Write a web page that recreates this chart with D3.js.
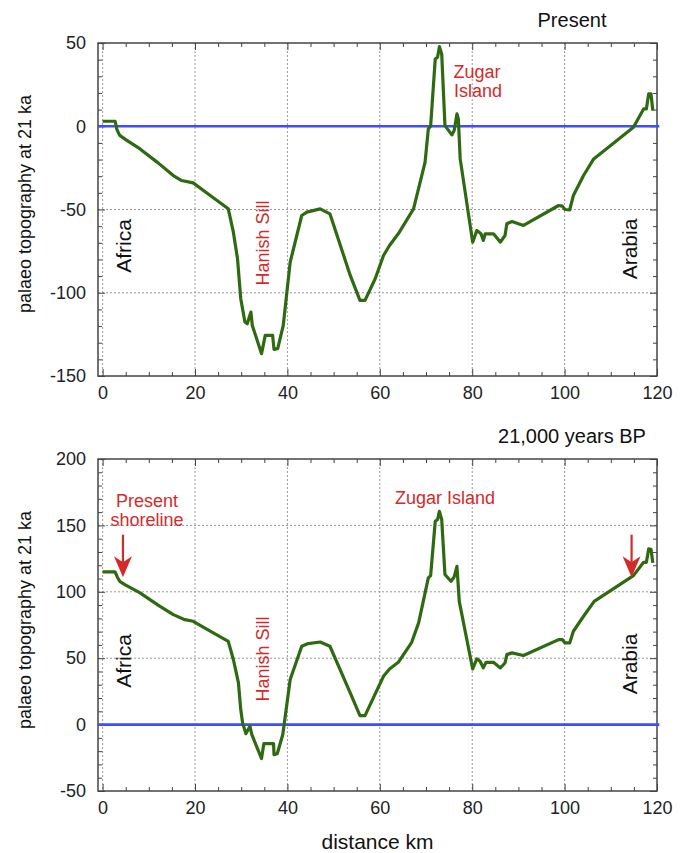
<!DOCTYPE html>
<html>

<head>
    <meta charset="utf-8">
    <script src="https://d3js.org/d3.v7.min.js"></script>
    <style>
        body { margin: 0; background: #fff; }
        svg { font-family: "Liberation Sans", Arial, Helvetica, sans-serif; }
        .tick text { font-size: 18px; fill: #222; }
        .tick line { stroke: #444; stroke-width: 1; }
        .grid line { stroke: #999; stroke-width: 1; stroke-dasharray: 2, 2; }
    </style>
</head>

<body>
    <script>
        // profile along the section, present-day bathymetry
        var presentDist = [0, 2.7, 3.1, 3.7, 5, 8.1, 12, 15.3, 17.1, 19.6, 23, 27.2, 28.3, 29.2, 29.9, 30.8, 31.3, 32.1, 32.4, 34.4, 35.2, 36.8, 37.1, 37.9, 39.1, 40.6, 43.1, 44.2, 47.1, 49.2, 53.6, 55.7, 56.8, 59.0, 60.8, 62.1, 64.0, 67.3, 69.8, 70.5, 71.0, 72.0, 72.5, 72.9, 73.4, 74.1, 75.6, 76.1, 76.7, 77.0, 77.4, 80.1, 81.0, 81.9, 82.4, 82.8, 84.6, 86.1, 87.1, 87.5, 88.6, 91.1, 98.7, 99.5, 100.1, 101.1, 101.9, 104.1, 106.3, 114.9, 117.1, 117.7, 118.2, 118.7, 119.1];
        var presentElev = [3, 3, -2, -5.5, -8, -13.6, -22, -29.6, -32.6, -34, -41, -49.6, -63.6, -79.6, -103.6, -117.6, -118.6, -111.6, -119.6, -136.6, -125.6, -125.6, -134, -133.6, -119.6, -81.6, -53.6, -51.6, -49.6, -52.6, -89.6, -104.6, -104.6, -91.6, -77.6, -71.6, -64.6, -49.6, -21.6, -1.6, 0, 40.4, 41.4, 47.8, 43.4, 0.4, -5.2, -2.6, 7.4, 4.4, -19.6, -69.6, -62.6, -64.6, -68.6, -64.6, -64.6, -69.6, -65.6, -58.6, -57.2, -59.6, -47.6, -48, -50, -50.2, -41.6, -29.6, -19.6, -0.6, 10.4, 10.4, 19.4, 19.4, 9.4];

        // same section at 21 ka
        var lgmDist = [0, 2.7, 3.2, 3.7, 5, 8.1, 12, 15.3, 17.8, 19.6, 23, 27.2, 28.3, 29.4, 29.9, 30.3, 31.0, 31.9, 32.3, 34.4, 34.9, 37.0, 37.1, 37.8, 39.0, 40.6, 43.1, 44.5, 47.1, 49.2, 53.6, 55.7, 56.8, 58.6, 60.8, 62.1, 64.0, 66.9, 68.4, 69.8, 70.5, 71.0, 72.0, 72.5, 72.9, 73.4, 74.1, 75.4, 76.1, 76.7, 77.2, 80.1, 81.0, 81.7, 82.4, 83.0, 84.6, 86.1, 87.1, 87.5, 88.6, 91.1, 98.7, 99.5, 100.1, 101.1, 101.9, 104.1, 106.4, 114.9, 117.1, 117.7, 118.2, 118.7, 119.1];
        var lgmElev = [115, 115, 111, 107.9, 105, 99.2, 90, 82.8, 79, 77.8, 71, 62.7, 49, 31.4, 11.3, 1.3, -6.8, -1.3, -7.5, -25.6, -14.3, -14.3, -22.6, -22, -7.5, 33.9, 59, 61, 62.2, 59, 23.9, 6.8, 6.8, 20.1, 36.4, 41.9, 46.9, 62, 76.6, 99.2, 110.5, 112.2, 153.1, 154.4, 160.6, 154.4, 113, 107.9, 111.2, 119.2, 92.8, 41.9, 49.5, 47.7, 42.7, 46.9, 46.9, 42.7, 46.4, 52.7, 54, 52, 64, 64, 61.5, 61.5, 70.3, 81.6, 92.8, 112.2, 122.2, 122.2, 132.3, 132, 121.8];

        var xTicks = [0, 20, 40, 60, 80, 100, 120];
        var presentYTicks = [-150, -100, -50, 0, 50];
        var lgmYTicks = [-50, 0, 50, 100, 150, 200];

        // shoreline arrows on the 21 ka panel: [distance, from, to]
        var shoreArrows = [[4.4, 143, 111], [114.5, 143, 111]];

        var W = 685, H = 853;
        var left = 98, right = 657;
        var green = "#2f6a12", blue = "#3d4dff", red = "#d42a2a";

        var svg = d3.select("body").append("svg")
            .attr("width", W)
            .attr("height", H);

        var x = d3.scaleLinear().domain([-1, 120]).range([left, right]);

        var drawPanel = function (opt) {
            var y = d3.scaleLinear().domain(opt.yDomain).range([opt.bottom, opt.top]);
            var g = svg.append("g");

            // dotted grid
            var grid = g.append("g").attr("class", "grid");
            grid.selectAll(".gx").data(xTicks.filter(function (d) { return d < 120; }))
                .enter().append("line")
                .attr("x1", function (d) { return x(d); }).attr("x2", function (d) { return x(d); })
                .attr("y1", opt.top).attr("y2", opt.bottom);
            grid.selectAll(".gy").data(opt.yTicks.slice(1, -1))
                .enter().append("line")
                .attr("x1", left).attr("x2", right)
                .attr("y1", function (d) { return y(d); }).attr("y2", function (d) { return y(d); });

            var minorX = d3.range(0, 121, 5).filter(function (d) { return d % 20 != 0; });
            var minorY = d3.range(opt.yDomain[0], opt.yDomain[1] + 1, 10).filter(function (d) { return d % 50 != 0; });

            // axes, ticks pointing inward on all four sides
            g.append("g").attr("transform", "translate(0," + opt.bottom + ")")
                .call(d3.axisBottom(x).tickValues(xTicks).tickSize(-7).tickPadding(10)
                    .tickFormat(function (d) { return String(d); }));
            g.append("g").attr("transform", "translate(0," + opt.bottom + ")")
                .call(d3.axisBottom(x).tickValues(minorX).tickSize(-4).tickFormat(""));
            g.append("g").attr("transform", "translate(0," + opt.top + ")")
                .call(d3.axisTop(x).tickValues(xTicks).tickSize(-7).tickFormat(""));
            g.append("g").attr("transform", "translate(0," + opt.top + ")")
                .call(d3.axisTop(x).tickValues(minorX).tickSize(-4).tickFormat(""));
            g.append("g").attr("transform", "translate(" + left + ",0)")
                .call(d3.axisLeft(y).tickValues(opt.yTicks).tickSize(-7).tickPadding(12)
                    .tickFormat(function (d) { return String(d); }));
            g.append("g").attr("transform", "translate(" + left + ",0)")
                .call(d3.axisLeft(y).tickValues(minorY).tickSize(-4).tickFormat(""));
            g.append("g").attr("transform", "translate(" + right + ",0)")
                .call(d3.axisRight(y).tickValues(opt.yTicks).tickSize(-7).tickFormat(""));
            g.append("g").attr("transform", "translate(" + right + ",0)")
                .call(d3.axisRight(y).tickValues(minorY).tickSize(-4).tickFormat(""));
            g.selectAll(".domain").remove();

            g.append("rect")
                .attr("x", left).attr("y", opt.top)
                .attr("width", right - left).attr("height", opt.bottom - opt.top)
                .attr("fill", "none").attr("stroke", "#444").attr("stroke-width", 1.5);

            // sea level
            g.append("line")
                .attr("x1", x(-1)).attr("x2", x(120.5))
                .attr("y1", y(0)).attr("y2", y(0))
                .attr("stroke", blue).attr("stroke-width", 2.6);

            var pts = opt.dist.map(function (d, i) { return [d, opt.elev[i]]; });
            g.append("path")
                .datum(pts)
                .attr("fill", "none")
                .attr("stroke", green)
                .attr("stroke-width", 3.2)
                .attr("stroke-linejoin", "round")
                .attr("d", d3.line().x(function (d) { return x(d[0]); }).y(function (d) { return y(d[1]); }));

            // titles and labels
            g.append("text").text(opt.title)
                .attr("x", 572).attr("y", opt.top - 16)
                .attr("text-anchor", "middle").attr("font-size", 20).attr("fill", "#111");

            g.append("text").text("palaeo topography at 21 ka")
                .attr("transform", "translate(31," + opt.labelY + ") rotate(-90)")
                .attr("text-anchor", "middle").attr("font-size", 18).attr("fill", "#111");

            var vlabel = function (txt, px, py, size, col) {
                g.append("text").text(txt)
                    .attr("transform", "translate(" + px + "," + py + ") rotate(-90)")
                    .attr("text-anchor", "middle").attr("dy", "0.36em")
                    .attr("font-size", size).attr("fill", col);
            };
            vlabel("Africa", 123, opt.africaY, 21, "#111");
            vlabel("Arabia", 629, opt.africaY + 3, 21, "#111");
            vlabel("Hanish Sill", 263, opt.sillY, 18, red);

            opt.zugar.forEach(function (line) {
                g.append("text").text(line[0])
                    .attr("x", line[1]).attr("y", line[2])
                    .attr("text-anchor", "middle").attr("font-size", 18).attr("fill", red);
            });
            return { g: g, y: y };
        };

        drawPanel({
            top: 43, bottom: 376, yDomain: [-150, 50], yTicks: presentYTicks,
            dist: presentDist, elev: presentElev, title: "Present",
            labelY: 204, africaY: 246, sillY: 243,
            zugar: [["Zugar", 477, 78], ["Island", 478, 97]]
        });

        var lgm = drawPanel({
            top: 459, bottom: 791, yDomain: [-50, 200], yTicks: lgmYTicks,
            dist: lgmDist, elev: lgmElev, title: "21,000 years BP",
            labelY: 620, africaY: 661, sillY: 659,
            zugar: [["Zugar Island", 445, 504]]
        });

        // present shoreline marker
        lgm.g.append("text").text("Present").attr("x", 147).attr("y", 507)
            .attr("text-anchor", "middle").attr("font-size", 18).attr("fill", red);
        lgm.g.append("text").text("shoreline").attr("x", 147).attr("y", 526)
            .attr("text-anchor", "middle").attr("font-size", 18).attr("fill", red);

        shoreArrows.forEach(function (a) {
            var ax = x(a[0]), y0 = lgm.y(a[1]), y1 = lgm.y(a[2]);
            lgm.g.append("line")
                .attr("x1", ax).attr("x2", ax).attr("y1", y0).attr("y2", y1 - 14)
                .attr("stroke", red).attr("stroke-width", 2.2);
            lgm.g.append("path")
                .attr("d", "M" + ax + "," + y1 + " L" + (ax - 9) + "," + (y1 - 21) +
                    " L" + ax + "," + (y1 - 15) + " L" + (ax + 9) + "," + (y1 - 21) + " Z")
                .attr("fill", red);
        });

        svg.append("text").text("distance km")
            .attr("x", (left + right) / 2).attr("y", 849)
            .attr("text-anchor", "middle").attr("font-size", 21).attr("fill", "#111");
    </script>
</body>

</html>
